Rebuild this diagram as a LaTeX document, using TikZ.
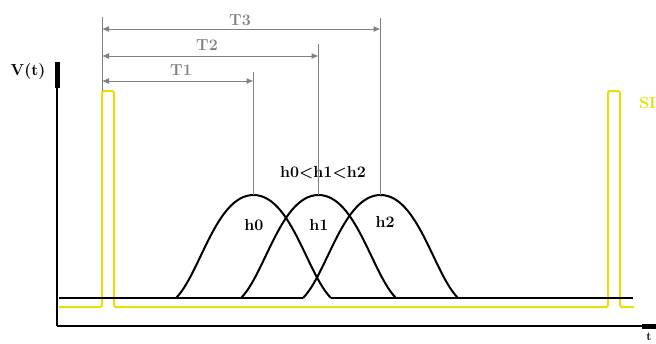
\documentclass[tikz,border=0pt]{standalone}
\usetikzlibrary{arrows.meta}
\definecolor{sigyellow}{RGB}{232,222,10}
\definecolor{dimgray}{RGB}{128,128,128}
\tikzset{
  axisline/.style={line width=2pt, black},
  sigline/.style={line width=2pt, sigyellow, rounded corners=1.5pt},
  bell/.style={line width=2pt, black},
  dimline/.style={line width=1pt, dimgray},
  dimarrow/.style={line width=1pt, dimgray, {Latex[length=7pt,width=6pt]}-{Latex[length=7pt,width=6pt]}},
  dimlabel/.style={text=dimgray, font=\fontsize{16}{17}\selectfont\bfseries, inner sep=0pt},
  blacklabel/.style={text=black, font=\fontsize{16}{17}\selectfont\bfseries, inner sep=0pt},
}
\begin{document}
\begin{tikzpicture}[x=1pt,y=-1pt]
\clip (0,0) rectangle (656,343);
\useasboundingbox (0,0) rectangle (656,343);
% axes
\coordinate (origin) at (57,326);
\coordinate (ytop) at (57,62);
\coordinate (xend) at (668,326);
\draw[axisline, -{Rectangle[length=26pt,width=5pt]}] (origin) -- (ytop);
\draw[axisline, -{Rectangle[length=26pt,width=5pt]}] (origin) -- (xend);
\node[blacklabel] (vt) at (28,72) {V(t)};
\node[blacklabel, anchor=south, font=\fontsize{12}{13}\selectfont\bfseries] (tl) at (649,341) {t};
% yellow signal
\coordinate (s0) at (59,307);
\coordinate (s1) at (634,307);
\draw[sigline] (s0) -- (102,307) -- (102,91) -- (114,91) -- (114,307) -- (608,307) -- (608,91) -- (620,91) -- (620,307) -- (s1);
\node[text=sigyellow, font=\fontsize{16}{17}\selectfont\bfseries, anchor=west, inner sep=0pt] (si) at (639,103) {SI};
% baseline
\coordinate (b0) at (59,298);
\coordinate (b1) at (303,298);
\coordinate (b2) at (331,298);
\coordinate (b3) at (633,298);
\draw[bell] (b0) -- (b1);
\draw[bell] (b2) -- (b3);
% bell curves
\foreach \x/\nm in {176/h0, 241/h1, 303/h2}{
  \coordinate (\nm l) at (\x,298);
  \coordinate (\nm p) at ({\x+77.5},195);
  \coordinate (\nm r) at ({\x+155},298);
  \draw[bell] (\nm l) .. controls ({\x+24},274) and ({\x+40},195) .. (\nm p)
               .. controls ({\x+115},195) and ({\x+131},274) .. (\nm r);
}
\node[blacklabel] (lh0) at (254,225) {h0};
\node[blacklabel] (lh1) at (319,225) {h1};
\node[blacklabel] (lh2) at (385,222) {h2};
\node[blacklabel] (cmp) at (323,173) {h0<h1<h2};
% dimension lines
\coordinate (ref) at (102,17);
\coordinate (reft) at (102,91);
\draw[dimline] (ref) -- (reft);
\coordinate (v3t) at (380.5,18);
\coordinate (v2t) at (318.5,44);
\coordinate (v1t) at (253.5,72);
\draw[dimline] (v3t) -- (h2p);
\draw[dimline] (v2t) -- (h1p);
\draw[dimline] (v1t) -- (h0p);
\coordinate (a3l) at (102,29); \coordinate (a3r) at (380.5,29);
\coordinate (a2l) at (102,56); \coordinate (a2r) at (318.5,56);
\coordinate (a1l) at (102,81); \coordinate (a1r) at (253.5,81);
\draw[dimarrow] (a3l) -- (a3r);
\draw[dimarrow] (a2l) -- (a2r);
\draw[dimarrow] (a1l) -- (a1r);
\node[dimlabel] (T3) at (240,20) {T3};
\node[dimlabel] (T2) at (207,45) {T2};
\node[dimlabel] (T1) at (181,70) {T1};
\end{tikzpicture}
\end{document}
